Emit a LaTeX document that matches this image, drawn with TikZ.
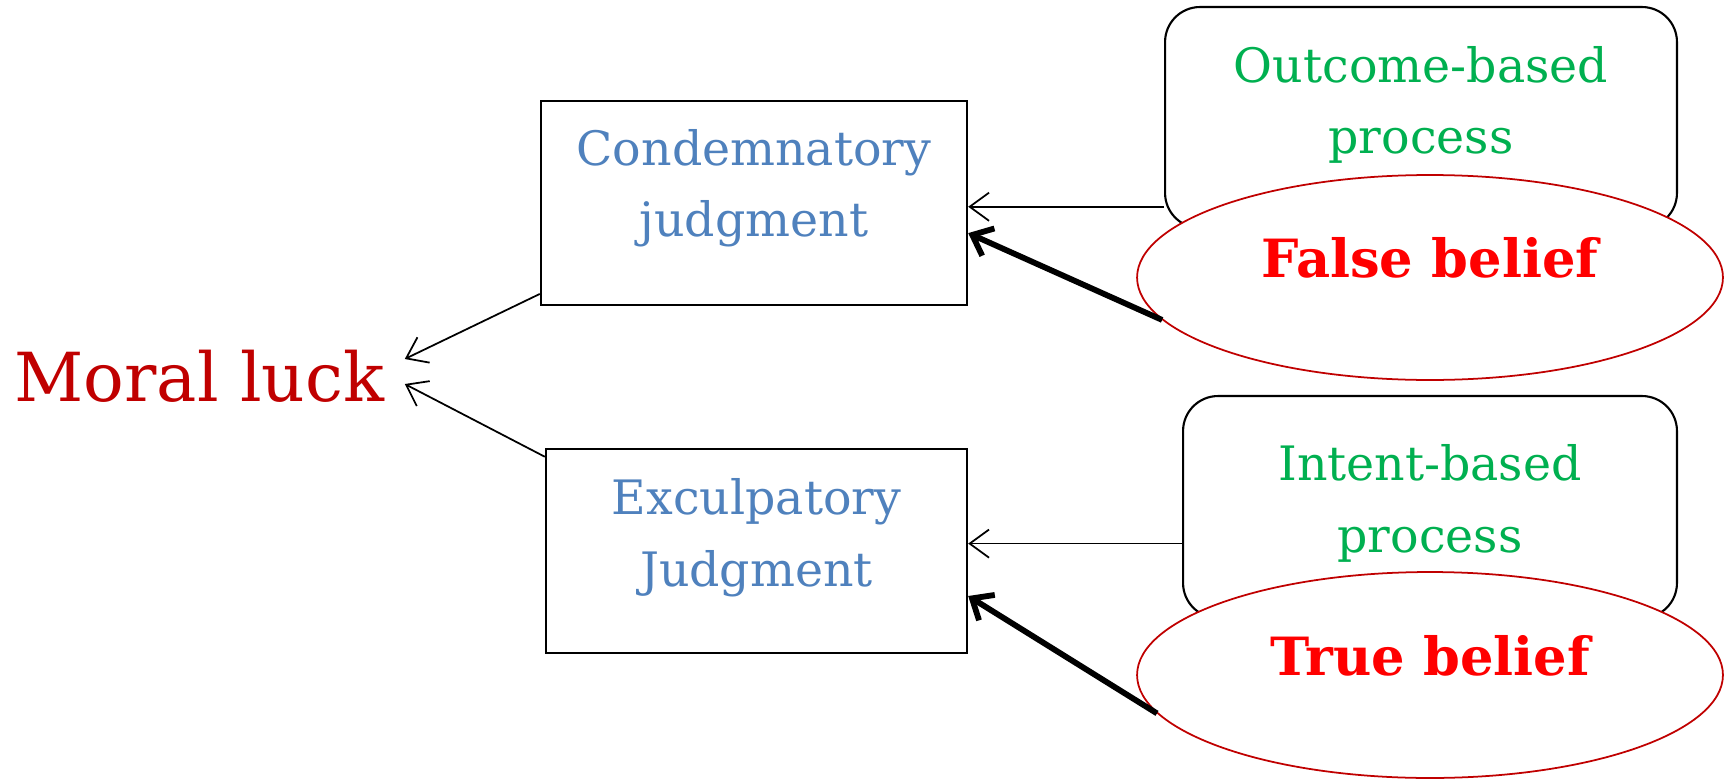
\documentclass[tikz,border=0pt]{standalone}
\usepackage{fontspec}
\setmainfont{DejaVu Serif}
\usetikzlibrary{shapes.geometric,arrows.meta,calc}

\definecolor{judgeblue}{HTML}{4F81BD}
\definecolor{procgreen}{HTML}{00B050}
\definecolor{luckred}{HTML}{C00000}
\definecolor{beliefred}{HTML}{FF0000}

\tikzset{judge/.style= {draw, line width=1.4pt, fill=white, align=center, inner ysep=0pt, text=judgeblue, font=\fontsize{27}{40.5}\selectfont}}
\tikzset{proc/.style= {draw, line width=1.2pt, fill=white, rounded corners=0.7cm, align=center, inner ysep=0pt, text=procgreen, font=\fontsize{27}{40.5}\selectfont}}
\tikzset{belief/.style= {ellipse, draw=luckred, line width=1pt, fill=white, inner sep=0pt, text height=0pt, text depth=0pt, minimum width=11.72cm, text=beliefred, font=\bfseries\fontsize{30}{36}\selectfont}}
\tikzset{weak/.style= {-{Straight Barb[length=11pt, width=16pt]}, line width=1pt}}
\tikzset{strong/.style= {-{Straight Barb[length=10pt, width=17pt]}, line width=3.3pt}}

\begin{document}
\begin{tikzpicture}[x=0.02cm, y=-0.02cm]
        \useasboundingbox (0,0) rectangle (1733,781);

        \node[proc, minimum width=10.24cm, text height=2.94cm, text depth=1.48cm](outc)at(1421,117.5){Outcome-based\\process};
        \node[proc, minimum width=9.88cm, text height=3.12cm, text depth=1.32cm](intent)at(1430,507){Intent-based\\process};

        \node[belief, minimum height=4.10cm](falseb)at(1430,277.5){False belief};
        \node[belief, minimum height=4.12cm](trueb)at(1430,675){True belief};

        \node[judge, minimum width=8.52cm, text height=2.72cm, text depth=1.36cm](cond)at(754,203){Condemnatory\\judgment};
        \node[judge, minimum width=8.42cm, text height=2.74cm, text depth=1.34cm](excul)at(756.5,551){Exculpatory\\Judgment};

        \node[anchor=base, inner xsep=0.4cm, inner ysep=0pt, text height=1.04cm, text depth=0pt, text=luckred, font=\fontsize{38.5}{46}\selectfont](moral)at(199.5,401){Moral luck};

        \draw[weak](outc.west |- cond.-1)--(cond.-1);
        \draw[weak](intent.west |- excul.2)--(excul.2);
        \draw[strong](falseb.189)--(cond.-8);
        \draw[strong](trueb.188)--(excul.-12);
        \draw[weak](cond.203)--($(moral.east)+(0,-16)$);
        \draw[weak](excul.156)--($(moral.east)+(0,9)$);
\end{tikzpicture}
\end{document}
